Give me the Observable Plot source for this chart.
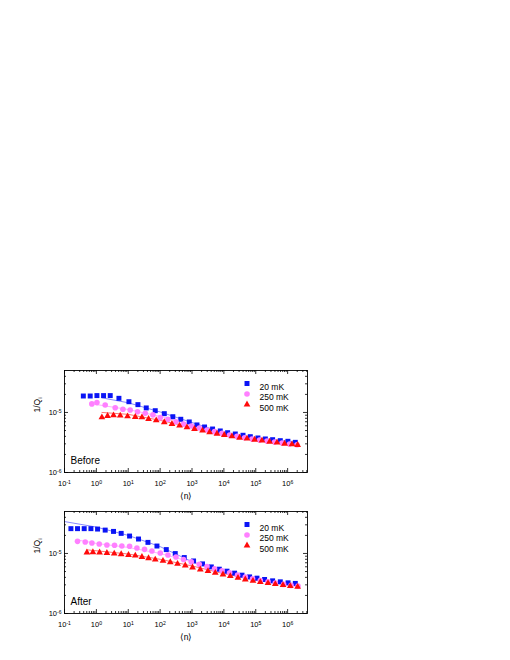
<!DOCTYPE html>
<html><head><meta charset="utf-8">
<script src="https://cdn.jsdelivr.net/npm/d3@7"></script>
<script src="https://cdn.jsdelivr.net/npm/@observablehq/plot@0.6"></script>
<style>
html,body{margin:0;padding:0;background:#fff;}
#wrap{position:relative;width:510px;height:660px;font-family:"Liberation Sans",Arial,sans-serif;}
#wrap svg{position:absolute;left:0;overflow:visible;}
</style></head><body><div id="wrap"></div>
<script>
// ---- Data: Before ----
const beforeN20 = [0.39,0.64,1.04,1.68,2.72,5.1,10.5,20.1,36.7,70.3,135,250,444,820,1430,2480,4420,7710,13100,22800,39800,67500,117000,200000,338000,589000,1.02e6,1.74e6];
const beforeQ20 = [1.88e-5,1.88e-5,1.91e-5,1.91e-5,1.91e-5,1.72e-5,1.51e-5,1.35e-5,1.19e-5,1.07e-5,9.55e-6,8.5e-6,7.7e-6,6.95e-6,6.2e-6,5.73e-6,5.3e-6,4.92e-6,4.6e-6,4.38e-6,4.17e-6,3.95e-6,3.76e-6,3.62e-6,3.52e-6,3.39e-6,3.31e-6,3.18e-6];
const beforeN250 = [0.72,1.04,1.89,3.9,6.8,11.5,19.5,34.1,59.5,101,176,314,543,948,1690,2950,5100,8710,15100,25800,44700,76200,132000,225000,390000,667000,1.15e6,1.97e6];
const beforeQ250 = [1.39e-5,1.46e-5,1.33e-5,1.2e-5,1.13e-5,1.1e-5,1.03e-5,9.7e-6,9.1e-6,8.2e-6,7.7e-6,7.0e-6,6.4e-6,5.96e-6,5.5e-6,5.1e-6,4.79e-6,4.5e-6,4.2e-6,4.0e-6,3.8e-6,3.6e-6,3.48e-6,3.35e-6,3.22e-6,3.1e-6,2.99e-6,2.9e-6];
const beforeN500 = [1.49,2.24,3.45,5.6,9.5,16.6,26.9,43.3,75.5,135,235,407,695,1200,2140,3560,6070,10300,17900,31100,53100,92000,157000,272000,464000,803000,1.37e6,2.06e6];
const beforeQ500 = [8.3e-6,8.74e-6,8.98e-6,8.85e-6,8.64e-6,8.41e-6,8.3e-6,7.79e-6,7.41e-6,6.87e-6,6.43e-6,6.03e-6,5.66e-6,5.31e-6,4.98e-6,4.68e-6,4.43e-6,4.22e-6,4.01e-6,3.8e-6,3.66e-6,3.52e-6,3.39e-6,3.26e-6,3.14e-6,3.02e-6,2.95e-6,2.87e-6];
// fit lines (Before)
const beforeFitN20 = [1.5,10,100,1000,1e4,1e5,2e6];
const beforeFitQ20 = [1.75e-5,1.45e-5,1.02e-5,6.8e-6,4.6e-6,3.8e-6,3.2e-6];
const beforeFitN250 = [0.8,10,100,1000,1e4,1e5,2e6];
const beforeFitQ250 = [1.38e-5,1.12e-5,8.6e-6,6.3e-6,4.5e-6,3.6e-6,2.95e-6];
const beforeFitN500 = [1.5,10,100,1000,1e4,1e5,2e6];
const beforeFitQ500 = [1.0e-5,9.3e-6,7.4e-6,5.6e-6,4.2e-6,3.4e-6,2.9e-6];

// ---- Data: After ----
const afterN20 = [0.159,0.256,0.415,0.674,1.09,1.89,3.45,6.0,11,21,41.5,79.5,156,298,572,1120,2140,4030,7180,12500,21700,37000,64100,109000,189000,338000,589000,1.03e6,1.74e6];
const afterQ20 = [2.59e-5,2.59e-5,2.59e-5,2.59e-5,2.55e-5,2.45e-5,2.33e-5,2.16e-5,1.95e-5,1.74e-5,1.53e-5,1.33e-5,1.16e-5,9.96e-6,8.55e-6,7.5e-6,6.7e-6,5.97e-6,5.47e-6,5.07e-6,4.7e-6,4.35e-6,4.07e-6,3.88e-6,3.69e-6,3.5e-6,3.37e-6,3.24e-6,3.17e-6];
const afterN250 = [0.256,0.447,0.724,1.23,2.14,3.71,6.3,11,18.7,32.4,55.3,101,176,314,543,948,1690,2950,5100,8710,15100,26900,47000,79600,139000,242000,410000,748000,1.28e6,2.12e6];
const afterQ250 = [1.59e-5,1.55e-5,1.49e-5,1.44e-5,1.38e-5,1.37e-5,1.33e-5,1.32e-5,1.23e-5,1.17e-5,1.1e-5,1.02e-5,9.44e-6,8.75e-6,7.92e-6,7.23e-6,6.62e-6,6.07e-6,5.53e-6,5.13e-6,4.75e-6,4.35e-6,4.03e-6,3.78e-6,3.55e-6,3.37e-6,3.21e-6,3.05e-6,2.94e-6,2.86e-6];
const afterN500 = [0.505,0.778,1.26,2.14,3.63,6.0,10.2,16.6,26.9,43.3,70.3,123,208,352,615,1040,1820,3170,5370,9370,15900,27700,47000,81800,139000,242000,410000,716000,1.21e6,2.06e6];
const afterQ500 = [1.04e-5,1.05e-5,1.04e-5,1.02e-5,9.96e-6,9.7e-6,9.44e-6,9.23e-6,8.75e-6,8.32e-6,7.92e-6,7.51e-6,7.14e-6,6.7e-6,6.3e-6,5.84e-6,5.41e-6,5.07e-6,4.75e-6,4.47e-6,4.19e-6,3.93e-6,3.69e-6,3.5e-6,3.33e-6,3.21e-6,3.08e-6,2.97e-6,2.86e-6,2.78e-6];
// fit lines (After)
const afterFitN20 = [0.1,1,10,100,1000,1e4,1e5,2e6];
const afterFitQ20 = [3.4e-5,2.75e-5,2.0e-5,1.3e-5,7.3e-6,4.8e-6,3.7e-6,3.1e-6];
const afterFitN250 = [0.25,1,10,100,1000,1e4,1e5,2e6];
const afterFitQ250 = [1.68e-5,1.47e-5,1.26e-5,1.0e-5,7.2e-6,5.0e-6,3.6e-6,2.9e-6];
const afterFitN500 = [0.5,10,100,1000,1e4,1e5,2e6];
const afterFitQ500 = [1.15e-5,9.8e-6,8.0e-6,6.2e-6,4.6e-6,3.6e-6,2.85e-6];

// ---- Series / axes ----
const seriesNames = ["20 mK","250 mK","500 mK"];
const seriesSymbols = ["square","circle","triangle"];
const seriesColors = ["#0a14f5","#ff80ff","#ff0a0a"];
const lineColors = ["#6a6aff","#ff9cff","#ff5050"];
const seriesR = [2.8,2.8,2.5];
const panelLabels = ["Before","After"];
const xDecades = [0.1,1,10,100,1e3,1e4,1e5,1e6];
const yDecades = [1e-6,1e-5];
const xDomain = [0.1, 4.2e6];
const yDomain = [1e-6, 5e-5];

function minorTicks(decades, lo, hi) {
  const out = [];
  for (const d of decades.concat([decades[decades.length-1]*10]))
    for (let k = 2; k <= 9; k++) { const v = k*d/10*10; const w = k*d; if (w > lo && w < hi && !decades.includes(w)) out.push(w); }
  return out;
}
const xMinor = minorTicks([0.1,1,10,100,1e3,1e4,1e5,1e6], xDomain[0], xDomain[1]);
const yMinor = minorTicks([1e-6,1e-5], yDomain[0], yDomain[1]);

function rows(ns, qs) { return ns.map((n,i) => ({n, q: qs[i]})); }

const panels = [
  {label: "Before", pts: [rows(beforeN20,beforeQ20), rows(beforeN250,beforeQ250), rows(beforeN500,beforeQ500)],
   fits: [rows(beforeFitN20,beforeFitQ20), rows(beforeFitN250,beforeFitQ250), rows(beforeFitN500,beforeFitQ500)], top: 350},
  {label: "After", pts: [rows(afterN20,afterQ20), rows(afterN250,afterQ250), rows(afterN500,afterQ500)],
   fits: [rows(afterFitN20,afterFitQ20), rows(afterFitN250,afterFitQ250), rows(afterFitN500,afterFitQ500)], top: 491}
];

const MT = 20, FH = 102, MB = 35;
const fmt = d => "10^" + Math.round(Math.log10(d));
const ns = "http://www.w3.org/2000/svg";
const wrap = document.getElementById("wrap");

for (const p of panels) {
  const marks = [];
  // fit lines
  p.fits.forEach((f,i) => marks.push(Plot.line(f, {x:"n", y:"q", stroke: lineColors[i], strokeWidth: 0.8})));
  // data
  p.pts.forEach((s,i) => marks.push(Plot.dot(s, {x:"n", y:"q", symbol: () => seriesSymbols[i], fill: seriesColors[i], stroke: "none", r: seriesR[i]})));
  // ticks (inward, all four sides)
  marks.push(Plot.tickX(xDecades, {insetTop: FH-4, stroke:"#000", strokeWidth:0.8}));
  marks.push(Plot.tickX(xDecades, {insetBottom: FH-4, stroke:"#000", strokeWidth:0.8}));
  marks.push(Plot.tickX(xMinor, {insetTop: FH-2, stroke:"#000", strokeWidth:0.8}));
  marks.push(Plot.tickX(xMinor, {insetBottom: FH-2, stroke:"#000", strokeWidth:0.8}));
  marks.push(Plot.tickY(yDecades, {insetRight: 243-4, stroke:"#000", strokeWidth:0.8}));
  marks.push(Plot.tickY(yDecades, {insetLeft: 243-4, stroke:"#000", strokeWidth:0.8}));
  marks.push(Plot.tickY(yMinor, {insetRight: 243-2, stroke:"#000", strokeWidth:0.8}));
  marks.push(Plot.tickY(yMinor, {insetLeft: 243-2, stroke:"#000", strokeWidth:0.8}));
  marks.push(Plot.frame({stroke:"#000", strokeWidth: 0.9}));
  // axes labels
  marks.push(Plot.axisX(xDecades, {anchor:"bottom", tickSize:0, tickPadding:8, tickFormat: fmt, label:null, fontSize: 7.5}));
  marks.push(Plot.axisY(yDecades, {anchor:"left", tickSize:0, tickPadding:3, tickFormat: fmt, label:null, fontSize: 7.5}));
  marks.push(Plot.text(["\u27E8n\u27E9"], {frameAnchor:"bottom", dy: 26, text: d => d, fontSize: 8.5}));
  marks.push(Plot.text(["1/Q_i"], {frameAnchor:"left", dx: -27, dy: -9, rotate: -90, text: d => d, fontSize: 8.5}));
  marks.push(Plot.text([p.label], {frameAnchor:"bottom-left", dx: 6, dy: -9, textAnchor:"start", text: d => d, fontSize: 10}));
  // legend
  seriesNames.forEach((name,i) => {
    marks.push(Plot.dot([name], {frameAnchor:"top-left", dx: 182.5, dy: 13 + i*10.5, symbol: seriesSymbols[i], fill: seriesColors[i], stroke:"none", r: seriesR[i]}));
    marks.push(Plot.text([name], {frameAnchor:"top-left", dx: 195, dy: 13 + i*10.5, textAnchor:"start", text: d => d, fontSize: 8.5}));
  });

  const svg = Plot.plot({
    width: 510, height: MT+FH+MB,
    marginLeft: 64, marginRight: 203, marginTop: MT, marginBottom: MB,
    x: {type:"log", domain: xDomain},
    y: {type:"log", domain: yDomain},
    style: {fontFamily:"'Liberation Sans', Arial, sans-serif", fontSize:"7.5px", background:"transparent", color:"#000"},
    marks
  });
  svg.style.top = p.top + "px";
  // superscripts / subscripts
  svg.querySelectorAll("text").forEach(t => {
    const m = t.textContent.match(/^10\^(-?\d+)$/);
    if (m) {
      t.textContent = "10";
      const ts = document.createElementNS(ns, "tspan");
      ts.setAttribute("dy", "-0.45em"); ts.setAttribute("font-size", "0.68em");
      ts.textContent = m[1]; t.appendChild(ts);
    } else if (t.textContent === "1/Q_i") {
      t.textContent = "1/Q";
      const ts = document.createElementNS(ns, "tspan");
      ts.setAttribute("dy", "0.3em"); ts.setAttribute("font-size", "0.68em");
      ts.textContent = "i"; t.appendChild(ts);
    }
  });
  wrap.appendChild(svg);
}
</script>
</body></html>
